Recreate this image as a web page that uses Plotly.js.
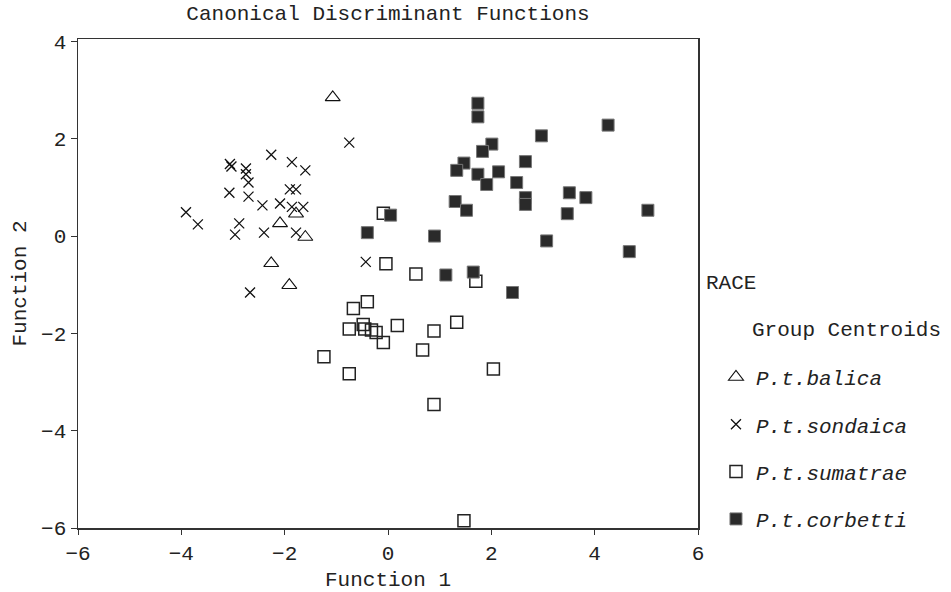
<!DOCTYPE html>
<html>
<head>
<meta charset="utf-8">
<script src="https://cdn.plot.ly/plotly-3.0.1.min.js"></script>
<style>html,body{margin:0;padding:0;background:#fff;}#chart{width:951px;height:592px;}</style>
</head>
<body>
<div id="chart"></div>
<script>
// Group labels
var groupNames = ["P.t.balica", "P.t.sondaica", "P.t.sumatrae", "P.t.corbetti"];

// Function 1 (x) and Function 2 (y) scores per group
var balicaX = [-1.07, -1.78, -2.09, -1.60, -2.26, -1.91];
var balicaY = [2.85, 0.46, 0.26, -0.02, -0.56, -1.01];

var sondaicaX = [-0.75, -2.26, -1.86, -1.60, -3.06, -3.03, -2.75, -2.75, -2.70, -1.90, -1.78, -3.07, -2.70, -2.43, -2.09, -1.86, -1.64, -3.91, -3.68, -2.88, -2.96, -2.40, -1.78, -0.43, -2.67];
var sondaicaY = [1.92, 1.67, 1.52, 1.35, 1.48, 1.43, 1.39, 1.27, 1.10, 0.96, 0.96, 0.89, 0.81, 0.63, 0.67, 0.60, 0.60, 0.49, 0.24, 0.26, 0.03, 0.07, 0.07, -0.53, -1.16];

var sumatraeX = [-0.09, -0.04, 0.54, 1.70, -0.40, -0.67, -0.75, -0.48, -0.45, -0.32, -0.23, -0.09, 0.18, 0.89, 1.33, 0.67, -1.24, -0.75, 2.04, 0.89, 1.47];
var sumatraeY = [0.47, -0.57, -0.78, -0.93, -1.35, -1.49, -1.91, -1.82, -1.91, -1.93, -1.98, -2.19, -1.84, -1.95, -1.77, -2.34, -2.48, -2.83, -2.73, -3.46, -5.85];

var corbettiX = [1.74, 1.74, 4.26, 2.97, 2.01, 1.83, 2.66, 1.47, 1.33, 1.74, 2.14, 1.91, 2.49, 3.51, 3.83, 2.66, 2.66, 1.30, 1.52, 5.03, 3.47, 0.05, -0.40, 0.90, 3.07, 4.67, 1.12, 1.65, 2.41];
var corbettiY = [2.73, 2.45, 2.28, 2.06, 1.89, 1.74, 1.53, 1.50, 1.35, 1.27, 1.32, 1.06, 1.10, 0.89, 0.79, 0.79, 0.65, 0.71, 0.53, 0.53, 0.46, 0.43, 0.07, 0.00, -0.10, -0.32, -0.80, -0.74, -1.16];

var xTicks = [-6, -4, -2, 0, 2, 4, 6];
var yTicks = [-6, -4, -2, 0, 2, 4];

var FONT = "Liberation Mono, Courier New, monospace";
var FS = 21;

var traces = [
  {x: balicaX, y: balicaY, name: groupNames[0], legendgroup: "a", type: "scatter", mode: "markers",
   marker: {symbol: "triangle-up-open", size: 13, color: "#111", line: {width: 1.1, color: "#111"}}},
  {x: sondaicaX, y: sondaicaY, name: groupNames[1], legendgroup: "b", type: "scatter", mode: "markers",
   marker: {symbol: "x-thin-open", size: 10, color: "#111", line: {width: 1.3, color: "#111"}}},
  {x: sumatraeX, y: sumatraeY, name: groupNames[2], legendgroup: "c", type: "scatter", mode: "markers",
   marker: {symbol: "square-open", size: 12, color: "#222", line: {width: 1.5, color: "#222"}}},
  {x: corbettiX, y: corbettiY, name: groupNames[3], legendgroup: "d", type: "scatter", mode: "markers",
   marker: {symbol: "square", size: 12, color: "#2a2a2a", line: {width: 1, color: "#777"}}}
];

var layout = {
  width: 951, height: 592,
  margin: {l: 78, r: 253, t: 39, b: 64, pad: 0},
  paper_bgcolor: "#fff", plot_bgcolor: "#fff",
  font: {family: FONT, size: FS, color: "#222"},
  title: {text: "Canonical Discriminant Functions", font: {family: FONT, size: FS, color: "#222"},
          xref: "paper", x: 0.5, xanchor: "center", yref: "container", y: 0.978, yanchor: "middle"},
  xaxis: {range: [-6, 6], tickvals: xTicks, ticks: "outside", ticklen: 5, tickwidth: 1, tickcolor: "#333",
          showline: true, linecolor: "#333", linewidth: 1.5, mirror: true, showgrid: false, zeroline: false,
          tickfont: {family: FONT, size: FS, color: "#222"},
          title: {text: "Function 1", font: {family: FONT, size: FS, color: "#222"}, standoff: 10}},
  yaxis: {range: [-6, 4.05], tickvals: yTicks, ticks: "outside", ticklen: 6, tickwidth: 1, tickcolor: "#333",
          showline: true, linecolor: "#333", linewidth: 1.5, mirror: true, showgrid: false, zeroline: false,
          tickfont: {family: FONT, size: FS, color: "#222"},
          title: {text: "Function 2", font: {family: FONT, size: FS, color: "#222"}, standoff: 8}},
  showlegend: true,
  legend: {x: 1.029, xanchor: "left", y: 0.35, yanchor: "top", traceorder: "grouped", tracegroupgap: 17,
           font: {family: FONT, size: FS, color: "#222", style: "italic"}, bgcolor: "rgba(0,0,0,0)", borderwidth: 0},
  annotations: [
    {text: "RACE", xref: "paper", yref: "paper", x: (704 - 78) / 620, y: (528 - 283) / 489, xanchor: "left", yanchor: "middle",
     showarrow: false, font: {family: FONT, size: FS, color: "#222"}},
    {text: "Group Centroids", xref: "paper", yref: "paper", x: (750 - 78) / 620, y: (528 - 330) / 489, xanchor: "left", yanchor: "middle",
     showarrow: false, font: {family: FONT, size: FS, color: "#222"}}
  ]
};

Plotly.newPlot("chart", traces, layout, {displayModeBar: false, staticPlot: true});
</script>
</body>
</html>
